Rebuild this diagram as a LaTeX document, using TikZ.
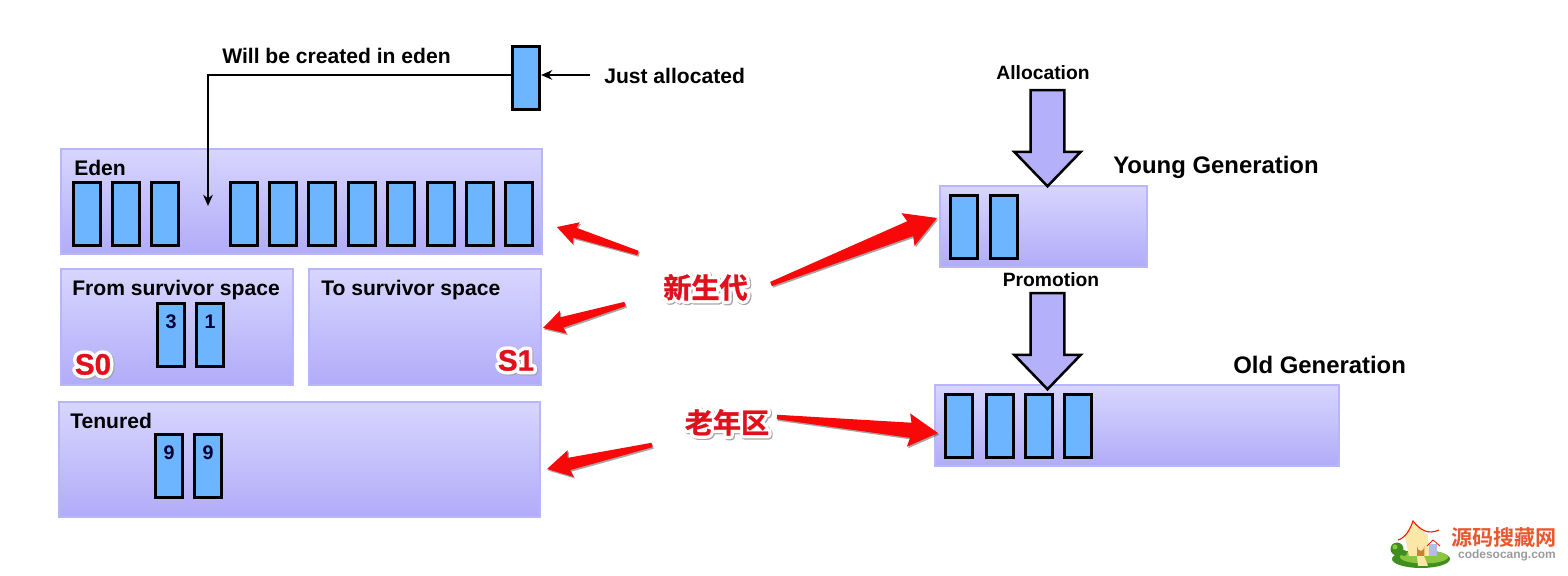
\documentclass[tikz,border=0pt]{standalone}
\usepackage{fontspec}
\setmainfont{Liberation Sans}
\newfontface\cjkbold[FakeBold=1]{Noto Sans CJK SC Bold}
\newfontface\cjkhalo[FakeBold=25]{Noto Sans CJK SC Bold}
\newfontface\latinbold[FakeBold=1]{Liberation Sans Bold}
\newfontface\latinhalo[FakeBold=25]{Liberation Sans Bold}
\newfontface\sitefont{Noto Sans CJK SC Bold}
\definecolor{regiontop}{HTML}{D8D5FE}
\definecolor{regionbot}{HTML}{B1ACF8}
\definecolor{regionline}{HTML}{B9B5F9}
\definecolor{cellblue}{HTML}{6DB6FF}
\definecolor{blockfill}{HTML}{B4B0FA}
\definecolor{tagred}{HTML}{E0101C}
\definecolor{arrowred}{HTML}{F80808}
\definecolor{logored}{HTML}{E9572F}
\definecolor{logogrey}{HTML}{9A9A9A}
\definecolor{lawn}{HTML}{8CC63F}
\definecolor{lawndark}{HTML}{3F8F1F}
\definecolor{wall}{HTML}{FBE7A8}
\usetikzlibrary{arrows.meta,calc,positioning,shadows,shapes.arrows}
\newcommand{\halotext}[3]{\rlap{\color{black!35}\raisebox{-0.8pt}{\kern0.8pt#1#3}}\rlap{\color{white}#1#3}{\color{tagred}#2#3}}
% tapered callout arrow, #3 scales the head
\newcommand{\redarrow}[3]{
  \fill[callout] ($(#1)!1.6pt!90:(#2)$)
    -- ($(#2)!{#3*0.72cm}!(#1)!{#3*0.20cm}!-90:(#1)$)
    -- ($(#2)!{#3*0.78cm}!(#1)!{#3*0.44cm}!-90:(#1)$)
    -- (#2)
    -- ($(#2)!{#3*0.78cm}!(#1)!{#3*0.44cm}!90:(#1)$)
    -- ($(#2)!{#3*0.72cm}!(#1)!{#3*0.20cm}!90:(#1)$)
    -- ($(#1)!1.6pt!-90:(#2)$) -- cycle;
}
\tikzset{
  region/.style={draw=regionline, line width=1.5pt, top color=regiontop, bottom color=regionbot, anchor=north west, inner sep=0pt},
  cell/.style={draw=black, line width=2pt, fill=cellblue, anchor=north west, inner sep=0pt, minimum width=0.68cm, minimum height=1.58cm},
  num/.style={font=\fontsize{14}{14}\selectfont\bfseries, text=black!80!blue, inner xsep=0pt, inner ysep=9pt, anchor=north},
  heading/.style={font=\fontsize{15}{15}\selectfont\bfseries, anchor=base west, inner sep=0pt},
  gen/.style={font=\fontsize{17}{17}\selectfont\bfseries, anchor=base west, inner sep=0pt},
  small/.style={font=\fontsize{13.7}{13.7}\selectfont\bfseries, inner sep=0pt},
  tag/.style={font=\fontsize{#1}{#1}\selectfont, inner sep=0pt},
  blockarrow/.style={single arrow, draw=black, line width=1.8pt, fill=blockfill, rotate=-90, inner xsep=0pt, inner ysep=0.39cm,
    minimum height=2.4cm, single arrow head extend=0.41cm, single arrow tip angle=88, single arrow head indent=0pt},
  flow/.style={-{Stealth[length=2.8mm,width=2.4mm]}, draw=black, line width=1.8pt},
  callout/.style={arrowred, drop shadow={shadow xshift=0.03cm, shadow yshift=-0.04cm, opacity=0.35, fill=black}},
}
\begin{document}
\begin{tikzpicture}[x=0.025cm, y=-0.025cm]
  \useasboundingbox (0,0) rectangle (1568,576);

  % left column: the heap regions
  \node[region, minimum width=12.02cm, minimum height=2.62cm] (eden) at (60,148) {};
  \node[region, minimum width=5.8cm, minimum height=2.9cm] (from) at (60,268) {};
  \node[region, minimum width=5.8cm, minimum height=2.9cm] (to) at (308,268) {};
  \node[region, minimum width=12.02cm, minimum height=2.87cm] (tenured) at (58,401) {};

  % right column
  \node[region, minimum width=5.17cm, minimum height=2.02cm] (young) at (939,185) {};
  \node[region, minimum width=10.1cm, minimum height=2.02cm] (old) at (934,384) {};

  \node[heading] (leden) at (74,176) {Eden};
  \node[heading] (lfrom) at (72,296) {From survivor space};
  \node[heading] (lto) at (321,296) {To survivor space};
  \node[heading] (lten) at (70,429) {Tenured};

  % objects in eden
  \foreach \n/\x in {1/72,2/111,3/150,4/229,5/268,6/307,7/347,8/386,9/426,10/465,11/504}
    \node[cell] (e\n) at (\x,181) {};

  \node[cell, label={[num]north:3}] (s1) at (156,302) {};
  \node[cell, label={[num]north:1}] (s2) at (195,302) {};
  \node[cell, label={[num]north:9}] (t1) at (154,433) {};
  \node[cell, label={[num]north:9}] (t2) at (193,433) {};

  \foreach \n/\x in {1/949,2/989}
    \node[cell] (y\n) at (\x,194) {};
  \foreach \n/\x in {1/944,2/985,3/1024,4/1063}
    \node[cell] (o\n) at (\x,393) {};

  % new object and where it goes
  \node[cell] (fresh) at (511,45) {};
  \node[heading] (ljust) at (604,84) {Just allocated};
  \node[heading] (lwill) at (222,64) {Will be created in eden};
  \coordinate (slot) at (208,206);
  \coordinate (justtail) at (590,75);
  \draw[flow] (fresh.west |- justtail) -| (slot);
  \draw[flow] (justtail) -- (fresh.east |- justtail);

  % allocation and promotion
  \node[blockarrow] (alloc) at (1047.5,129.5) {};
  \node[blockarrow] (promo) at (1047.5,332.5) {};
  \node[small] (lalloc) at (1043,73) {Allocation};
  \node[small] (lpromo) at (1051,280) {Promotion};
  \node[gen] (lyoung) at (1113,174) {Young Generation};
  \node[gen] (lold) at (1233,374) {Old Generation};

  % red tags and callouts, round joins keep the outlined glyphs from spiking
  \begin{scope}[line join=round]
    \node[tag=20] (xin) at (705.5,288) {\halotext{\cjkhalo}{\cjkbold}{新生代}};
    \node[tag=20] (lao) at (727,423) {\halotext{\cjkhalo}{\cjkbold}{老年区}};
    \node[tag=21] (szero) at (93,365) {\halotext{\latinhalo}{\latinbold}{S0}};
    \node[tag=21] (sone) at (516,361) {\halotext{\latinhalo}{\latinbold}{S1}};
  \end{scope}

  \coordinate (a1) at (638,253); \coordinate (b1) at (557,227);
  \coordinate (a2) at (625,304); \coordinate (b2) at (543,328);
  \coordinate (a3) at (771,284); \coordinate (b3) at (937,218);
  \coordinate (a4) at (652,445); \coordinate (b4) at (547,469);
  \coordinate (a5) at (777,417); \coordinate (b5) at (938,433);
  \redarrow{a1}{b1}{0.65}
  \redarrow{a2}{b2}{0.68}
  \redarrow{a3}{b3}{1}
  \redarrow{a4}{b4}{0.78}
  \redarrow{a5}{b5}{0.95}

  % site badge
  \fill[lawndark] (1421,559) ellipse (29 and 9);
  \fill[lawn] (1424,557) ellipse (24 and 6.5);
  \fill[lawndark] (1397,549) circle (6.5);
  \fill[lawn] (1395,547) circle (2.5);
  \fill[lawndark] (1404,553) circle (3);
  \fill[wall] (1413,523) -- (1428,535) -- (1429,556) -- (1409,556) -- (1405,537) -- cycle;
  \fill[wall] (1417,556) -- (1424,556) -- (1428,566) -- (1418,566) -- cycle;
  \fill[brown!80!orange] (1417,556) -- (1417,546) arc (180:360:3.7 and -5) -- (1424.4,556) -- cycle;
  \fill[cyan!35!blue!30] (1429,544) rectangle (1437,556);
  \draw[red!80!orange, line width=0.8pt] (1398,540) .. controls (1405,538) and (1410,530) .. (1413,521) .. controls (1420,530) and (1428,535) .. (1439,530);
  \draw[red!80!orange, line width=0.6pt] (1427,546) -- (1433,540) -- (1440,546);
  \node[font=\fontsize{15}{15}\selectfont, text=logored, inner sep=0pt] (sitecn) at (1504,538) {\sitefont 源码搜藏网};
  \node[font=\fontsize{8.5}{8.5}\selectfont\bfseries, text=logogrey, inner sep=0pt] (siteen) at (1507,555) {codesocang.com};
\end{tikzpicture}
\end{document}
